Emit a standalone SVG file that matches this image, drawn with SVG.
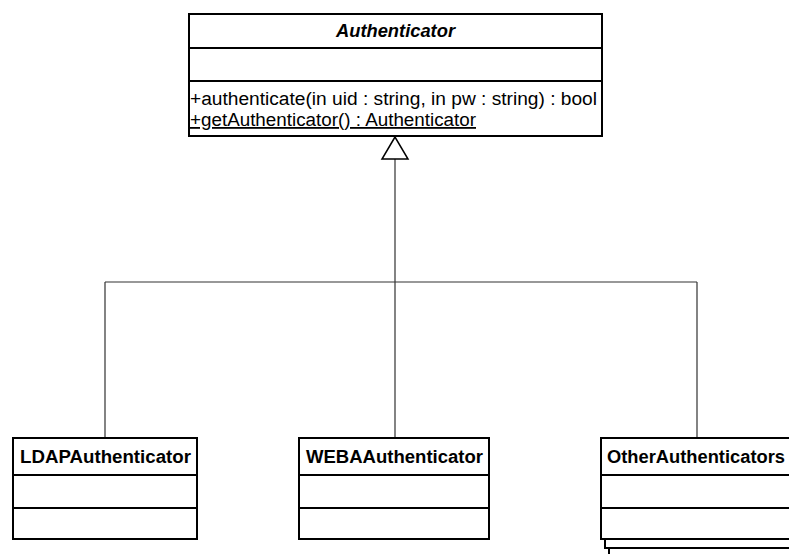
<svg xmlns="http://www.w3.org/2000/svg" width="789" height="554" viewBox="0 0 789 554">
<style>
.box{fill:#fff;stroke:#000;stroke-width:2}
.sep{stroke:#000;stroke-width:2}
.conn{fill:none;stroke:#333;stroke-width:1.2}
.t{font-family:"Liberation Sans",Arial,sans-serif;fill:#000}
.title{font-weight:bold;font-size:18px}
.m{font-size:18px}
</style>
<rect width="789" height="554" fill="#fff"/>
<g id="connectors">
<path class="conn" d="M395 159V282M105 282H697M105 282V438M395 282V438M697 282V438"/>
<polygon points="395,137 382,159 408,159" fill="#fff" stroke="#000" stroke-width="1.5"/>
</g>
<g id="Authenticator">
<rect class="box" x="189" y="14" width="413" height="122"/>
<line class="sep" x1="189" y1="48" x2="602" y2="48"/>
<line class="sep" x1="189" y1="81" x2="602" y2="81"/>
<text class="t title" x="395.5" y="37" text-anchor="middle" font-style="italic" textLength="119" lengthAdjust="spacingAndGlyphs">Authenticator</text>
<text class="t m" x="190" y="105" textLength="407" lengthAdjust="spacingAndGlyphs">+authenticate(in uid : string, in pw : string) : bool</text>
<text class="t m" x="190" y="126" text-decoration="underline" textLength="286" lengthAdjust="spacingAndGlyphs">+getAuthenticator() : Authenticator</text>
</g>
<g id="LDAPAuthenticator">
<rect class="box" x="13" y="438" width="184" height="101"/>
<line class="sep" x1="13" y1="475" x2="197" y2="475"/>
<line class="sep" x1="13" y1="508" x2="197" y2="508"/>
<text class="t title" x="20" y="463" textLength="171" lengthAdjust="spacingAndGlyphs">LDAPAuthenticator</text>
</g>
<g id="WEBAAuthenticator">
<rect class="box" x="299" y="438" width="190" height="101"/>
<line class="sep" x1="299" y1="475" x2="489" y2="475"/>
<line class="sep" x1="299" y1="508" x2="489" y2="508"/>
<text class="t title" x="306" y="463" textLength="177" lengthAdjust="spacingAndGlyphs">WEBAAuthenticator</text>
</g>
<g id="OtherAuthenticators">
<path d="M605 540V548H792M609 548V556" fill="none" stroke="#000" stroke-width="2"/>
<rect class="box" x="601" y="438" width="200" height="101"/>
<line class="sep" x1="601" y1="475" x2="801" y2="475"/>
<line class="sep" x1="601" y1="508" x2="801" y2="508"/>
<text class="t title" x="607" y="463" textLength="178" lengthAdjust="spacingAndGlyphs">OtherAuthenticators</text>
</g>
</svg>
